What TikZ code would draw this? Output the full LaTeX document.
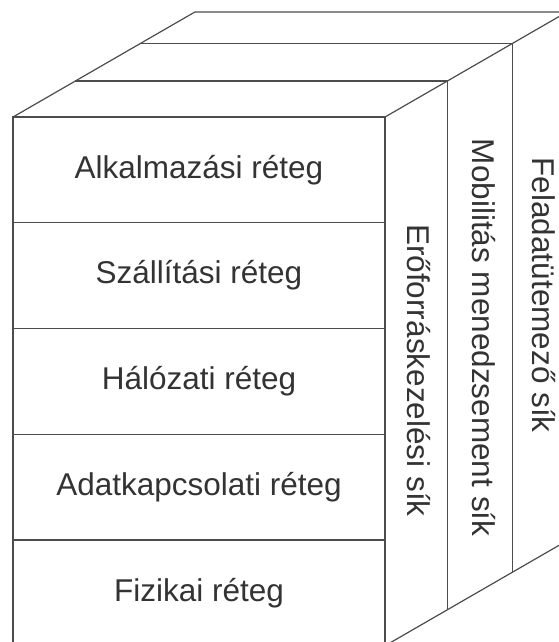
\documentclass[tikz,border=0pt]{standalone}
\usepackage{fontspec}
\setmainfont{Liberation Sans}
\usetikzlibrary{positioning, calc}
\tikzset{
    x=1pt, y=1pt,
    node distance=0pt,
    every node/.style={font=\fontsize{31.5}{38}\selectfont, text=black!80},
    layer/.style={draw=black!70, line width=1.2pt, minimum width=372pt,
        minimum height=105.75pt, inner sep=0pt, outer sep=0pt},
    plane/.style={rotate=-90, inner sep=0pt},
    edge/.style={line width=1.2pt, draw=black!70, line join=round}
}

\begin{document}
\begin{tikzpicture}
    \useasboundingbox (0,0) rectangle (558,642);

    % front face: the layers
    \node[layer] (app) at (199,472.1) {Alkalmazási réteg};
    \node[layer, below=of app] (trans) {Szállítási réteg};
    \node[layer, below=of trans] (net) {Hálózati réteg};
    \node[layer, below=of net] (link) {Adatkapcsolati réteg};
    \node[layer, below=of link] (phy) {Fizikai réteg};

    % depth of the planes
    \coordinate (d1) at (30:72pt);
    \coordinate (d2) at (30:147pt);
    \coordinate (d3) at (30:210pt);

    \draw[edge] (app.north west) -- ++(d3) -- ($(app.north east)+(d3)$) -- (app.north east);
    \draw[edge] (phy.south east) -- ++(d3) -- ($(app.north east)+(d3)$);
    \foreach \d in {d1,d2} {
        \draw[edge] ($(app.north west)+(\d)$) -- ($(app.north east)+(\d)$)
            -- ($(phy.south east)+(\d)$);
    }

    % side planes
    \coordinate (mid) at ($(app.north east)!0.5!(phy.south east)$);
    \node[plane] (res) at ($(mid)+0.5*(d1)+(3,-7)$) {Erőforráskezelési sík};
    \node[plane] (mob) at ($(mid)+(30:109.5pt)+(4,-11)$) {Mobilitás menedzsement sík};
    \node[plane] (sched) at ($(mid)+(30:178.5pt)+(4,-3)$) {Feladatütemező sík};
\end{tikzpicture}
\end{document}
